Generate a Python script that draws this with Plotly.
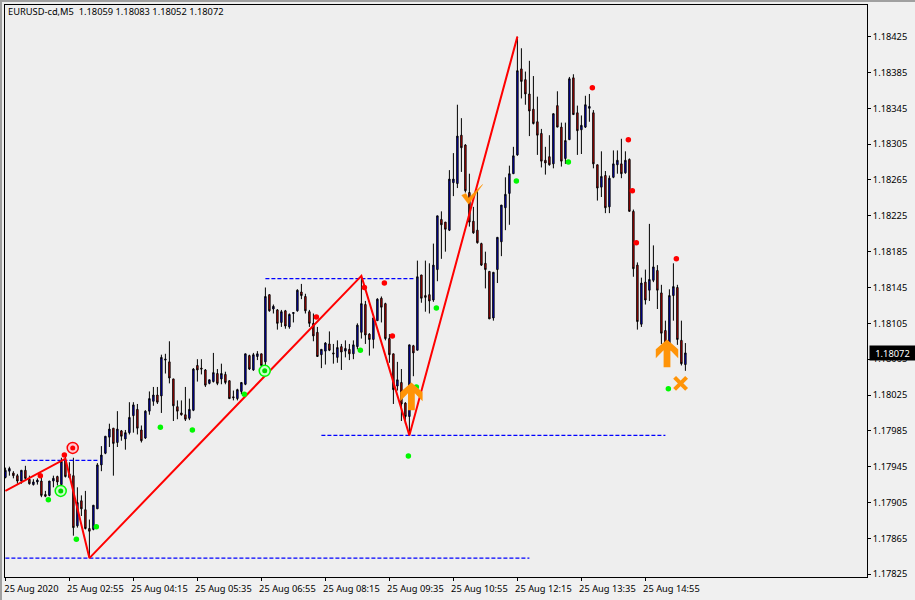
import plotly.graph_objects as go

# Prices are stored as points: price = 1 + points / 100000
opens = [17933,17940,17938,17935,17929,17941,17931,17925,17928,17929,17914,17913,17929,17934,17925,17952,17933,17935,17879,17907,
17897,17876,17875,17898,17947,17960,17978,17988,17972,17985,17976,17983,18002,18009,17986,17977,18007,18018,18025,18024,
18064,18062,18043,18012,18005,18003,17999,18008,18058,18055,18053,18038,18040,18049,18043,18048,18041,18023,18021,18029,
18037,18069,18053,18068,18071,18062,18137,18121,18120,18106,18119,18101,18116,18119,18140,18135,18118,18105,18095,18070,
18074,18082,18072,18067,18079,18074,18076,18071,18079,18095,18126,18093,18087,18108,18133,18127,18088,18071,18035,18039,
18016,18001,18080,18075,18159,18136,18137,18131,18165,18221,18218,18209,18262,18261,18315,18304,18251,18219,18209,18194,
18172,18163,18111,18165,18196,18234,18250,18272,18293,18389,18377,18361,18344,18330,18317,18287,18291,18283,18348,18324,
18289,18310,18379,18340,18321,18324,18345,18340,18282,18257,18270,18235,18268,18282,18283,18273,18288,18230,18170,18104,
18151,18142,18153,18164,18139,18097,18075,18136,18145,18086,18059]
highs = [17944,17945,17940,17937,17941,17946,17935,17931,17932,17935,17918,17929,17935,17935,17955,17957,17950,17955,17922,17913,
17918,17886,17902,17949,17968,17979,17993,17988,18007,17986,17986,18017,18017,18015,17991,18008,18029,18034,18034,18070,
18071,18085,18043,18019,18019,18034,18021,18055,18065,18065,18054,18042,18072,18054,18060,18051,18041,18030,18032,18039,
18071,18070,18072,18074,18071,18145,18137,18126,18121,18120,18120,18116,18117,18143,18149,18138,18120,18116,18101,18076,
18084,18096,18082,18086,18082,18086,18082,18086,18105,18159,18130,18094,18112,18133,18135,18128,18093,18071,18062,18054,
18017,18081,18081,18175,18159,18175,18172,18194,18225,18230,18218,18276,18295,18349,18334,18305,18272,18235,18254,18195,
18185,18163,18162,18201,18237,18268,18281,18302,18425,18412,18386,18398,18381,18358,18322,18302,18315,18339,18364,18329,
18329,18380,18383,18348,18337,18359,18361,18343,18282,18297,18275,18270,18298,18298,18311,18297,18289,18232,18173,18156,
18165,18216,18192,18170,18148,18108,18143,18172,18148,18108,18083]
lows = [17932,17935,17932,17926,17926,17929,17925,17924,17925,17911,17911,17912,17922,17924,17922,17933,17932,17868,17877,17890,
17875,17843,17874,17898,17940,17959,17967,17935,17967,17974,17964,17981,17983,17981,17972,17976,18003,18013,18015,18005,
18049,18038,17996,17998,18002,17996,17997,18007,18040,18048,18034,18037,18039,18036,18037,18037,18021,18019,18019,18026,
18036,18053,18052,18064,18057,18052,18118,18116,18098,18101,18099,18099,18106,18118,18132,18116,18101,18085,18068,18055,
18059,18074,18060,18061,18053,18067,18064,18065,18076,18088,18082,18069,18077,18108,18106,18086,18061,18015,18030,17996,
17993,17980,18046,18075,18128,18118,18116,18129,18152,18177,18185,18208,18247,18256,18274,18251,18213,18205,18194,18169,
18144,18110,18108,18150,18180,18209,18215,18272,18292,18356,18349,18314,18327,18293,18279,18271,18281,18278,18324,18280,
18283,18310,18338,18293,18294,18323,18330,18278,18242,18246,18228,18228,18267,18272,18267,18272,18230,18157,18098,18101,
18126,18130,18151,18121,18082,18067,18071,18108,18081,18058,18052]
closes = [17941,17943,17935,17929,17941,17932,17926,17928,17930,17913,17912,17929,17932,17928,17951,17934,17937,17877,17905,17898,
17876,17873,17902,17947,17958,17979,17987,17971,17987,17979,17983,18000,18014,17988,17974,18007,18021,18025,18017,18067,
18065,18044,18013,18007,18003,17998,18009,18054,18053,18054,18036,18042,18050,18038,18049,18039,18021,18022,18031,18039,
18071,18054,18070,18071,18058,18135,18119,18124,18105,18118,18102,18115,18117,18142,18136,18119,18105,18091,18068,18076,
18083,18075,18071,18078,18073,18077,18071,18081,18103,18127,18092,18087,18111,18132,18123,18088,18070,18031,18042,18015,
18001,18081,18072,18157,18133,18134,18130,18170,18225,18215,18210,18266,18266,18314,18301,18253,18218,18206,18195,18170,
18165,18110,18162,18201,18237,18249,18272,18292,18387,18375,18361,18342,18328,18315,18286,18284,18282,18339,18324,18286,
18309,18378,18338,18320,18326,18349,18347,18283,18256,18269,18234,18267,18283,18287,18272,18287,18230,18166,18107,18150,
18131,18154,18168,18142,18094,18076,18136,18146,18087,18060,18072]

zigzag_bars = [0, 15, 21, 89, 101, 128]
zigzag_points = [17918, 17954, 17843, 18158, 17980, 18425]

level_bars = [[4, 23], [0, 131], [65, 102], [79, 165]]
level_points = [17952, 17843, 18155, 17980]

green_bars = [11, 18, 23, 39, 47, 60, 89, 103, 108, 101, 128, 141, 166]
green_points = [17908, 17864, 17878, 17989, 17986, 18026, 18075, 18034, 18122, 17957, 18264, 18285, 18032]
red_bars = [9, 15, 78, 90, 95, 97, 147, 156, 157, 158, 168]
red_points = [17935, 17958, 18112, 18145, 18150, 18091, 18368, 18310, 18253, 18195, 18177]

red_ring_bars, red_ring_points = [17], [17966]
green_ring_bars, green_ring_points = [14, 65], [17918, 18052]

arrow_bars = [101.5, 165.4]
arrow_tips = [18039, 18087]
# Outline of the big arrow relative to its tip: bars across, points down.
arrow_dx = [0, 2.8, 2.8, 0.85, 0.85, -0.85, -0.85, -2.8, -2.8, 0]
arrow_dp = [0, -11, -21, -12, -31, -31, -12, -21, -11, 0]

check_bars = [114.1, 115.1, 115.8, 119.3, 115.8, 114.1]
check_points = [18248, 18250, 18245, 18260, 18238, 18248]
cross_bars, cross_points = [168.8], [18038]

tick_bars = list(range(0, 171, 16))
tick_labels = ["25 Aug 2020", "25 Aug 02:55", "25 Aug 04:15", "25 Aug 05:35", "25 Aug 06:55", "25 Aug 08:15",
               "25 Aug 09:35", "25 Aug 10:55", "25 Aug 12:15", "25 Aug 13:35", "25 Aug 14:55"]
price_ticks = [18425, 18385, 18345, 18305, 18265, 18225, 18185, 18145, 18105, 18065, 18025, 17985, 17945, 17905, 17865, 17825]
title_text = "EURUSD-cd,M5  1.18059 1.18083 1.18052 1.18072"
last_price = 18072


def px(values):
    return [1 + v / 100000 for v in values]


FONT = "Noto Sans"
FS = 9.3
ORANGE = "#ff9408"
DOT_SHIFT = -0.26
RING_SHIFT = -0.17
NOHOVER = dict(hoverinfo="skip", showlegend=False)

fig = go.Figure()
fig.add_trace(go.Candlestick(
    x=list(range(len(opens))), open=px(opens), high=px(highs), low=px(lows), close=px(closes),
    increasing=dict(line=dict(color="#000000", width=1), fillcolor="#0000ff"),
    decreasing=dict(line=dict(color="#000000", width=1), fillcolor="#ff0000"),
    whiskerwidth=0, **NOHOVER))
for bars, lvl in zip(level_bars, level_points):
    fig.add_trace(go.Scatter(x=bars, y=px([lvl, lvl]), mode="lines",
                             line=dict(color="#0000ff", width=1.3, dash="4px,2px"), **NOHOVER))
fig.add_trace(go.Scatter(x=zigzag_bars, y=px(zigzag_points), mode="lines",
                         line=dict(color="#ff0000", width=2), **NOHOVER))
fig.add_trace(go.Scatter(x=[b + DOT_SHIFT for b in green_bars], y=px(green_points), mode="markers",
                         marker=dict(color="#00f800", size=5.5), **NOHOVER))
fig.add_trace(go.Scatter(x=[b + DOT_SHIFT for b in red_bars], y=px(red_points), mode="markers",
                         marker=dict(color="#ff0000", size=5.5), **NOHOVER))
for bars, pts, ring, center, pale in [(red_ring_bars, red_ring_points, "#ff0000", "#ff0000", "#ffc8d0"),
                                      (green_ring_bars, green_ring_points, "#00f800", "#00d800", "#c8ffc8")]:
    shifted = [b + RING_SHIFT for b in bars]
    fig.add_trace(go.Scatter(x=shifted, y=px(pts), mode="markers",
                             marker=dict(color=pale, size=11, line=dict(color=ring, width=1.5)), **NOHOVER))
    fig.add_trace(go.Scatter(x=shifted, y=px(pts), mode="markers", marker=dict(color=center, size=5), **NOHOVER))
for bar, tip in zip(arrow_bars, arrow_tips):
    fig.add_trace(go.Scatter(x=[bar + d for d in arrow_dx], y=px([tip + d for d in arrow_dp]), mode="lines",
                             fill="toself", fillcolor=ORANGE, line=dict(width=0, color=ORANGE), **NOHOVER))
fig.add_trace(go.Scatter(x=check_bars, y=px(check_points), mode="lines", fill="toself", fillcolor=ORANGE,
                         line=dict(width=0.5, color=ORANGE), **NOHOVER))
fig.add_trace(go.Scatter(x=cross_bars, y=px(cross_points), mode="markers",
                         marker=dict(symbol="x-thin", size=12, line=dict(color=ORANGE, width=4)), **NOHOVER))

annotations = [
    dict(text=title_text, xref="paper", yref="paper", x=(6 - 5) / 862, y=(577 - 12) / 572, xanchor="left",
         yanchor="middle", showarrow=False, font=dict(family=FONT, size=FS, color="#000000")),
    dict(text=f"1.{last_price}", xref="paper", yref="y", x=(869 - 5) / 862, y=1 + last_price / 100000, xanchor="left",
         yanchor="middle", showarrow=False, bgcolor="#000000", width=43, height=12,
         font=dict(family=FONT, size=FS, color="#ffffff")),
]

fig.update_layout(
    width=915, height=600, margin=dict(l=5, r=48, t=5, b=23),
    paper_bgcolor="#f0f0f0", plot_bgcolor="#eeeeee", showlegend=False,
    boxgap=0.5,
    font=dict(family=FONT, size=FS, color="#000000"),
    xaxis=dict(range=[-0.1, 215.4], rangeslider=dict(visible=False), showgrid=False, zeroline=False,
               tickvals=tick_bars, ticktext=tick_labels, ticks="outside", ticklen=3, tickcolor="#000000", tickwidth=1,
               showline=True, linecolor="#000000", linewidth=1, mirror=True, ticklabelshift=26,
               tickfont=dict(family=FONT, size=FS)),
    yaxis=dict(range=[1 + 17821.9 / 100000, 1 + 18460.3 / 100000], side="right", showgrid=False, zeroline=False,
               tickvals=px(price_ticks), ticktext=[f"1.{t}" for t in price_ticks], ticks="outside", ticklen=3,
               tickcolor="#000000", tickwidth=1, showline=True, linecolor="#000000", linewidth=1, mirror=True,
               tickfont=dict(family=FONT, size=FS)),
    annotations=annotations,
    shapes=[
        dict(type="rect", xref="paper", yref="paper", x0=-5 / 862, x1=910 / 862, y0=(577 - 2) / 572, y1=1 + 5 / 572,
             fillcolor="#a0a0a0", line=dict(width=0), layer="below"),
        dict(type="rect", xref="paper", yref="paper", x0=-5 / 862, x1=-3 / 862, y0=-23 / 572, y1=1 + 5 / 572,
             fillcolor="#a0a0a0", line=dict(width=0), layer="below"),
    ],
)
fig.write_html("out.html", config=dict(displayModeBar=False),
               post_script="document.body.style.margin='0';document.body.style.overflow='hidden';")
